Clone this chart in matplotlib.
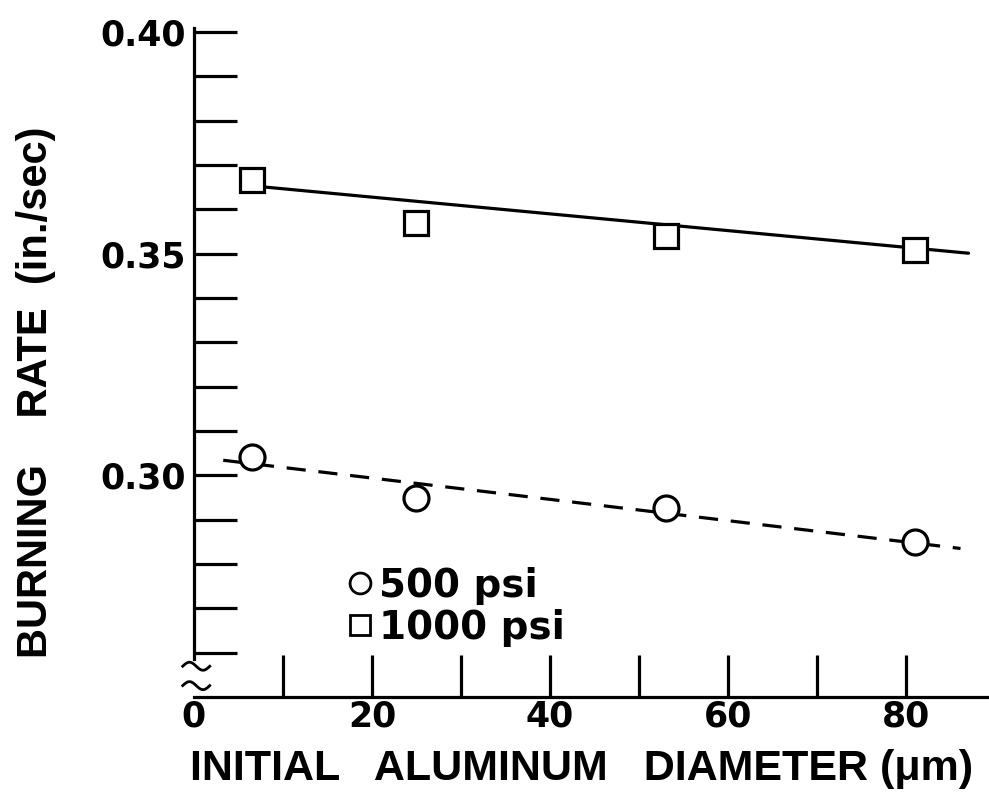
import numpy as np
import matplotlib
matplotlib.use("Agg")
import matplotlib.pyplot as plt
from matplotlib.lines import Line2D

# ---- data ----
diam = [6.5, 25, 53, 81]
rate_500 = [0.3041, 0.2948, 0.2926, 0.2849]
rate_1000 = [0.3666, 0.3569, 0.3540, 0.3508]
fit_x_500 = [3.3, 86.1]
fit_y_500 = [0.3034, 0.2835]
fit_x_1000 = [8.1, 87.0]
fit_y_1000 = [0.3650, 0.3501]
xtick_vals = [0, 20, 40, 60, 80]
xtick_minor = [10, 30, 50, 70]
ytick_vals = [0.30, 0.35, 0.40]
ytick_labels = ["0.30", "0.35", "0.40"]
ytick_minor = [0.26, 0.27, 0.28, 0.29, 0.31, 0.32, 0.33, 0.34, 0.36, 0.37, 0.38, 0.39]
labels = ["500 psi", "1000 psi"]
xlabel = "INITIAL   ALUMINUM   DIAMETER (\u03bcm)"
ylabel = "BURNING    RATE  (in./sec)"

plt.rcParams['font.family'] = ['DejaVu Sans']
plt.rcParams['font.weight'] = 'bold'

fig = plt.figure(figsize=(9.89, 8.07), dpi=100)
ax = fig.add_axes([0.196, 0.1363, 0.804, 0.829])
lw = 2.3

ax.plot(fit_x_1000, fit_y_1000, color='black', lw=lw, solid_capstyle='round')
ax.plot(fit_x_500, fit_y_500, color='black', lw=lw, dashes=(6, 4))
ax.plot(diam, rate_1000, linestyle='none', marker='s', ms=17, mfc='white',
        mec='black', mew=2.3)
ax.plot(diam, rate_500, linestyle='none', marker='o', ms=18, mfc='white',
        mec='black', mew=2.3)

ax.set_xlim(0, 89.3)
ax.set_ylim(0.25, 0.4009)

for s in ['top', 'right']:
    ax.spines[s].set_visible(False)
ax.spines['left'].set_linewidth(lw)
ax.spines['bottom'].set_linewidth(lw)
ax.spines['left'].set_bounds(0.2585, 0.4009)

ax.set_xticks(xtick_vals)
ax.set_xticklabels([str(v) for v in xtick_vals])
ax.set_xticks(xtick_minor, minor=True)
ax.set_yticks(ytick_vals)
ax.set_yticklabels(ytick_labels)
ax.set_yticks(ytick_minor, minor=True)

ax.tick_params(axis='x', which='both', direction='in', length=30, width=lw,
               labelsize=25, pad=2)
ax.tick_params(axis='y', which='both', direction='in', length=31, width=lw,
               labelsize=25, pad=6)
ax.xaxis.get_major_ticks()[0].tick1line.set_visible(False)

ax.set_xlabel(xlabel, fontsize=31, fontweight='bold',
              family=['Liberation Sans', 'DejaVu Sans'], va='center')
ax.xaxis.set_label_coords(0.488, -0.107)
ax.set_ylabel(ylabel, fontsize=30, fontweight='bold',
              family=['Liberation Sans', 'DejaVu Sans'], va='center')
ax.yaxis.set_label_coords(-0.1987, 0.455)

# axis break squiggles
t = np.linspace(0, 1, 30)
for yoff in [0.046, 0.017]:
    xs = -0.014 + 0.034 * t
    ys = yoff + 0.006 * np.sin(2 * np.pi * t)
    ax.plot(xs, ys, transform=ax.transAxes, color='black', lw=2, clip_on=False)

handles = [Line2D([], [], linestyle='none', marker='o', ms=15, mfc='white',
                  mec='black', mew=2),
           Line2D([], [], linestyle='none', marker='s', ms=14, mfc='white',
                  mec='black', mew=2)]
ax.legend(handles, labels, loc='lower left', bbox_to_anchor=(0.184, 0.075),
          frameon=False, fontsize=28, handletextpad=0.0, handlelength=1.0,
          labelspacing=0.1, borderaxespad=0, borderpad=0)

fig.savefig('out.png', dpi=100)
